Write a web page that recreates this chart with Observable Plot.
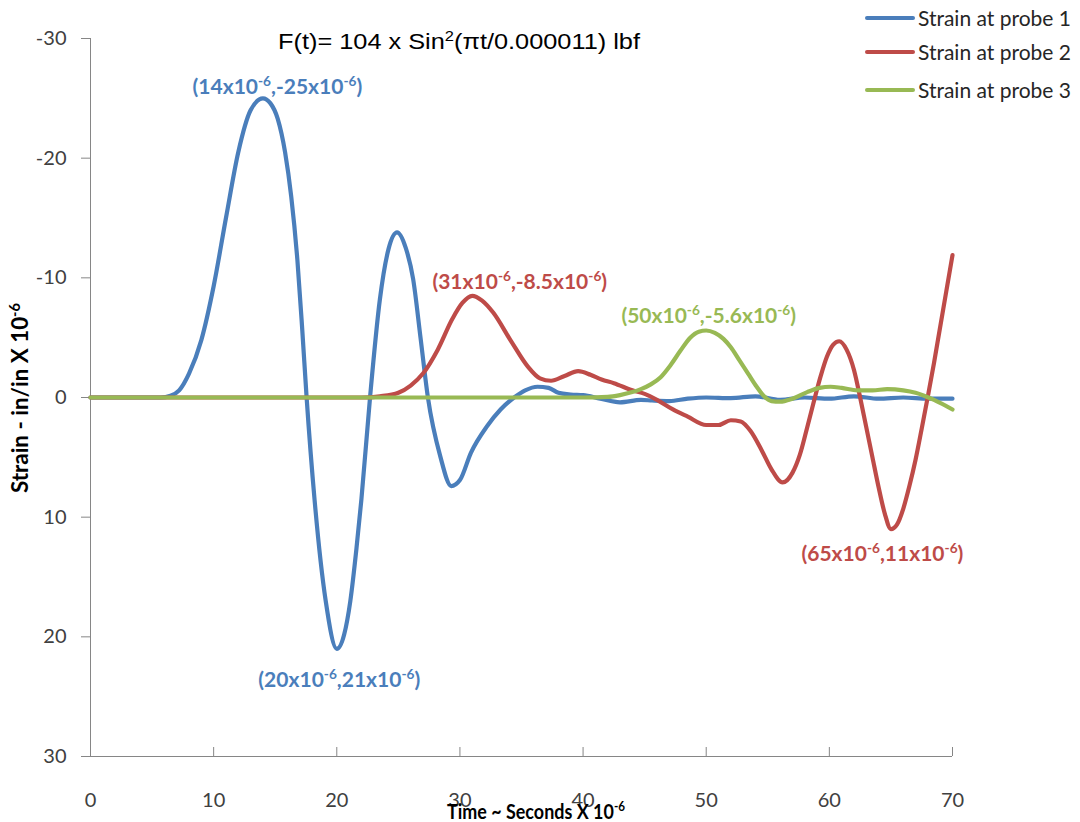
<!DOCTYPE html>
<html>
<head>
<meta charset="utf-8">
<script src="https://cdn.jsdelivr.net/npm/d3@7"></script>
<script src="https://cdn.jsdelivr.net/npm/@observablehq/plot@0.6"></script>
<style>
  html, body { margin: 0; padding: 0; background: #fff; }
  svg { display: block; }
</style>
</head>
<body>
<div id="chart"></div>
<script>
// Strain response at three probes, in/in x 10^-6, against time in microseconds.
const seriesNames = ["Strain at probe 1", "Strain at probe 2", "Strain at probe 3"];
const seriesColors = ["#4A7EBB", "#BE4B48", "#98B954"];

// [time (µs), strain (x10^-6)]; negative strain is plotted upward
const probe1 = [
  [0, 0], [2, 0], [4, 0], [5.7, 0], [6.5, -0.15], [7.2, -0.6], [8, -2], [9, -4.8], [10, -9.3],
  [11, -15], [12, -20.5], [13, -24], [14, -25], [14.6, -24.6], [15.2, -23.3], [15.8, -20.5],
  [16.3, -16.8], [16.8, -11.5], [17.2, -5.6], [17.55, 0], [18.2, 8.6], [19.1, 17], [20, 21],
  [20.6, 19.8], [21.1, 17], [21.6, 12.6], [22, 8.5], [22.7, 0], [23.5, -8.2], [24.2, -12.4],
  [24.9, -13.8], [25.6, -12.5], [26.2, -9.9], [26.8, -5], [27.4, 0], [28.4, 4.9], [29.3, 7.4],
  [30, 6.9], [30.9, 4.6], [32.2, 2.4], [33.3, 1], [34.4, 0], [35.3, -0.6], [36.3, -0.9],
  [37.2, -0.8], [38, -0.4], [39, -0.25], [40, -0.2], [41.4, 0.1], [43, 0.4], [44.7, 0.2],
  [45.6, 0.25], [47, 0.3], [48.5, 0.1], [50, 0], [52, 0.05], [54, -0.1], [56, 0.2], [58, 0],
  [60, 0.1], [62, -0.1], [64, 0.1], [66, 0], [68, 0.1], [70, 0.1]
];
const probe2 = [
  [0, 0], [5, 0], [10, 0], [15, 0], [20, 0], [22, 0], [23.5, -0.1], [25, -0.4], [26, -1],
  [27, -2], [28.2, -4], [29.4, -6.6], [30.2, -7.9], [31, -8.5], [31.8, -8.1], [32.7, -7.1],
  [34.1, -4.8], [35.5, -2.6], [36.5, -1.6], [37.4, -1.4], [38.5, -1.8], [39.6, -2.2],
  [40.6, -1.9], [41.5, -1.5], [42.5, -1.2], [44, -0.6], [45, -0.3], [46, 0.2], [47.3, 1],
  [48.5, 1.6], [50, 2.3], [51, 2.3], [52, 1.9], [52.8, 2], [53.6, 2.8], [54.5, 4.4],
  [55.3, 6], [56.2, 7.1], [57, 6.3], [57.6, 4.8], [58.2, 2.5], [58.7, 0.5], [59.3, -1.8],
  [59.8, -3.4], [60.3, -4.4], [60.8, -4.7], [61.4, -4], [62, -2.3], [62.5, 0], [63, 2.5],
  [63.5, 5], [64, 7.5], [64.5, 9.7], [65, 11], [65.5, 10.6], [66, 9.3], [66.5, 7.4],
  [67, 5.2], [67.5, 2.6], [68, -0.1], [68.5, -2.9], [69, -5.9], [69.5, -8.9], [70, -11.9]
];
const probe3 = [
  [0, 0], [5, 0], [10, 0], [15, 0], [20, 0], [25, 0], [30, 0], [35, 0], [40, 0], [42, -0.05],
  [43, -0.2], [44, -0.45], [44.7, -0.7], [45.5, -1.1], [46.3, -1.7], [47.1, -2.7],
  [47.9, -3.9], [48.7, -5], [49.4, -5.5], [50, -5.6], [50.7, -5.4], [51.4, -4.9], [52, -4.2],
  [52.7, -3.1], [53.4, -2], [54.1, -0.9], [54.7, -0.1], [55.3, 0.3], [56, 0.35], [57, 0.1],
  [58.2, -0.45], [59.2, -0.8], [60.1, -0.9], [61, -0.8], [62.3, -0.6], [63.5, -0.6],
  [64.7, -0.7], [66, -0.6], [67, -0.4], [68.5, 0.2], [70, 1]
];

const xTicks = [0, 10, 20, 30, 40, 50, 60, 70];
const yTicks = [-30, -20, -10, 0, 10, 20, 30];

// labelled extrema: [series index, time, strain]
const callouts = [[0, 14, -25], [0, 20, 21], [1, 31, -8.5], [2, 50, -5.6], [1, 65, 11]];
// label placement relative to the extremum, in pixels: [dx, baseline dy]
const calloutOffsets = [[15, -4], [3, 39], [48, -6], [3, -7], [-8, 32]];

const W = 1080, H = 822;
const M = {top: 38, right: 128, bottom: 66, left: 90};
const axisGray = "#868686";
const labelInk = "#404040";

const rows = [probe1, probe2, probe3].flatMap((pts, i) =>
  pts.map(([t, s]) => ({series: seriesNames[i], t, s}))
);

const chart = Plot.plot({
  width: W,
  height: H,
  marginTop: M.top,
  marginRight: M.right,
  marginBottom: M.bottom,
  marginLeft: M.left,
  style: {fontFamily: "Lato, 'Open Sans', sans-serif", fontSize: "20px", background: "#fff", overflow: "visible"},
  x: {domain: [0, 70], label: null},
  y: {domain: [-30, 30], reverse: true, label: null},
  color: {domain: seriesNames, range: seriesColors},
  marks: [
    Plot.axisY({ticks: yTicks, tickSize: 9, tickPadding: 15, tickFormat: d => String(d),
      stroke: axisGray, fill: labelInk, label: null}),
    Plot.axisX({ticks: xTicks, tickSize: 0, tickPadding: 36, tickFormat: d => String(d),
      fill: labelInk, label: null}),
    // short tick marks standing up from the time axis
    Plot.ruleX(xTicks.slice(1), {x: d => d, insetTop: H - M.top - M.bottom - 9, stroke: axisGray}),
    Plot.ruleX([0], {stroke: axisGray}),
    Plot.ruleY([30], {stroke: axisGray}),
    Plot.line(rows, {x: "t", y: "s", z: "series", stroke: "series", strokeWidth: 4.2,
      curve: "monotone-x", strokeLinejoin: "round", strokeLinecap: "round"})
  ]
});

document.getElementById("chart").appendChild(chart);

const svg = d3.select(chart);
const sx = chart.scale("x"), sy = chart.scale("y");

// text with {..} segments set as superscripts
function richText(parent, str, {x, y, anchor = "start", size, weight = "normal", fill, family, textLength, rotate}) {
  const t = parent.append("text")
    .attr("x", x).attr("y", y)
    .attr("text-anchor", anchor)
    .attr("font-size", size)
    .attr("font-weight", weight)
    .attr("font-family", family)
    .attr("fill", fill);
  if (rotate) t.attr("transform", `rotate(${rotate},${x},${y})`);
  if (textLength) t.attr("textLength", textLength).attr("lengthAdjust", "spacingAndGlyphs");
  const shift = size * 0.38;
  let raised = false;
  str.split(/(\{[^}]*\})/).filter(s => s.length).forEach(seg => {
    const sup = seg.startsWith("{");
    const ts = t.append("tspan").text(sup ? seg.slice(1, -1) : seg);
    if (sup) {
      ts.attr("font-size", size * 0.65).attr("dy", -shift);
      raised = true;
    } else if (raised) {
      ts.attr("dy", shift);
      raised = false;
    }
  });
  return t;
}

const overlay = svg.append("g");

// formula heading
richText(overlay, "F(t)= 104 x Sin{2}(πt/0.000011) lbf", {
  x: 278, y: 49, size: 22, fill: "#000", family: "'Liberation Sans', Arial, sans-serif", textLength: 362
});

// axis titles
richText(overlay, "Time ~ Seconds X 10{-6}", {
  x: 447, y: 819, size: 20, weight: "bold", fill: "#000", family: "Lato, sans-serif", textLength: 178
});
richText(overlay, "Strain - in/in X 10{-6}", {
  x: 28, y: 493, size: 22, weight: "bold", fill: "#000", family: "Lato, sans-serif", textLength: 190, rotate: -90
});

// extremum callouts
callouts.forEach(([i, t, s], k) => {
  const [dx, dy] = calloutOffsets[k];
  richText(overlay, `(${t}x10{-6},${s}x10{-6})`, {
    x: sx.apply(t) + dx, y: sy.apply(s) + dy, anchor: "middle",
    size: 21, weight: "bold", fill: seriesColors[i], family: "Lato, sans-serif"
  });
});

// legend
const legendRows = [18, 52, 90];
const legend = overlay.append("g");
seriesNames.forEach((name, i) => {
  legend.append("line")
    .attr("x1", 867).attr("x2", 913)
    .attr("y1", legendRows[i]).attr("y2", legendRows[i])
    .attr("stroke", seriesColors[i]).attr("stroke-width", 4).attr("stroke-linecap", "round");
  legend.append("text")
    .attr("x", 918).attr("y", legendRows[i] + 8)
    .attr("text-anchor", "start")
    .attr("font-family", "Lato, sans-serif").attr("font-size", 21)
    .attr("fill", "#262626")
    .text(name);
});
</script>
</body>
</html>
